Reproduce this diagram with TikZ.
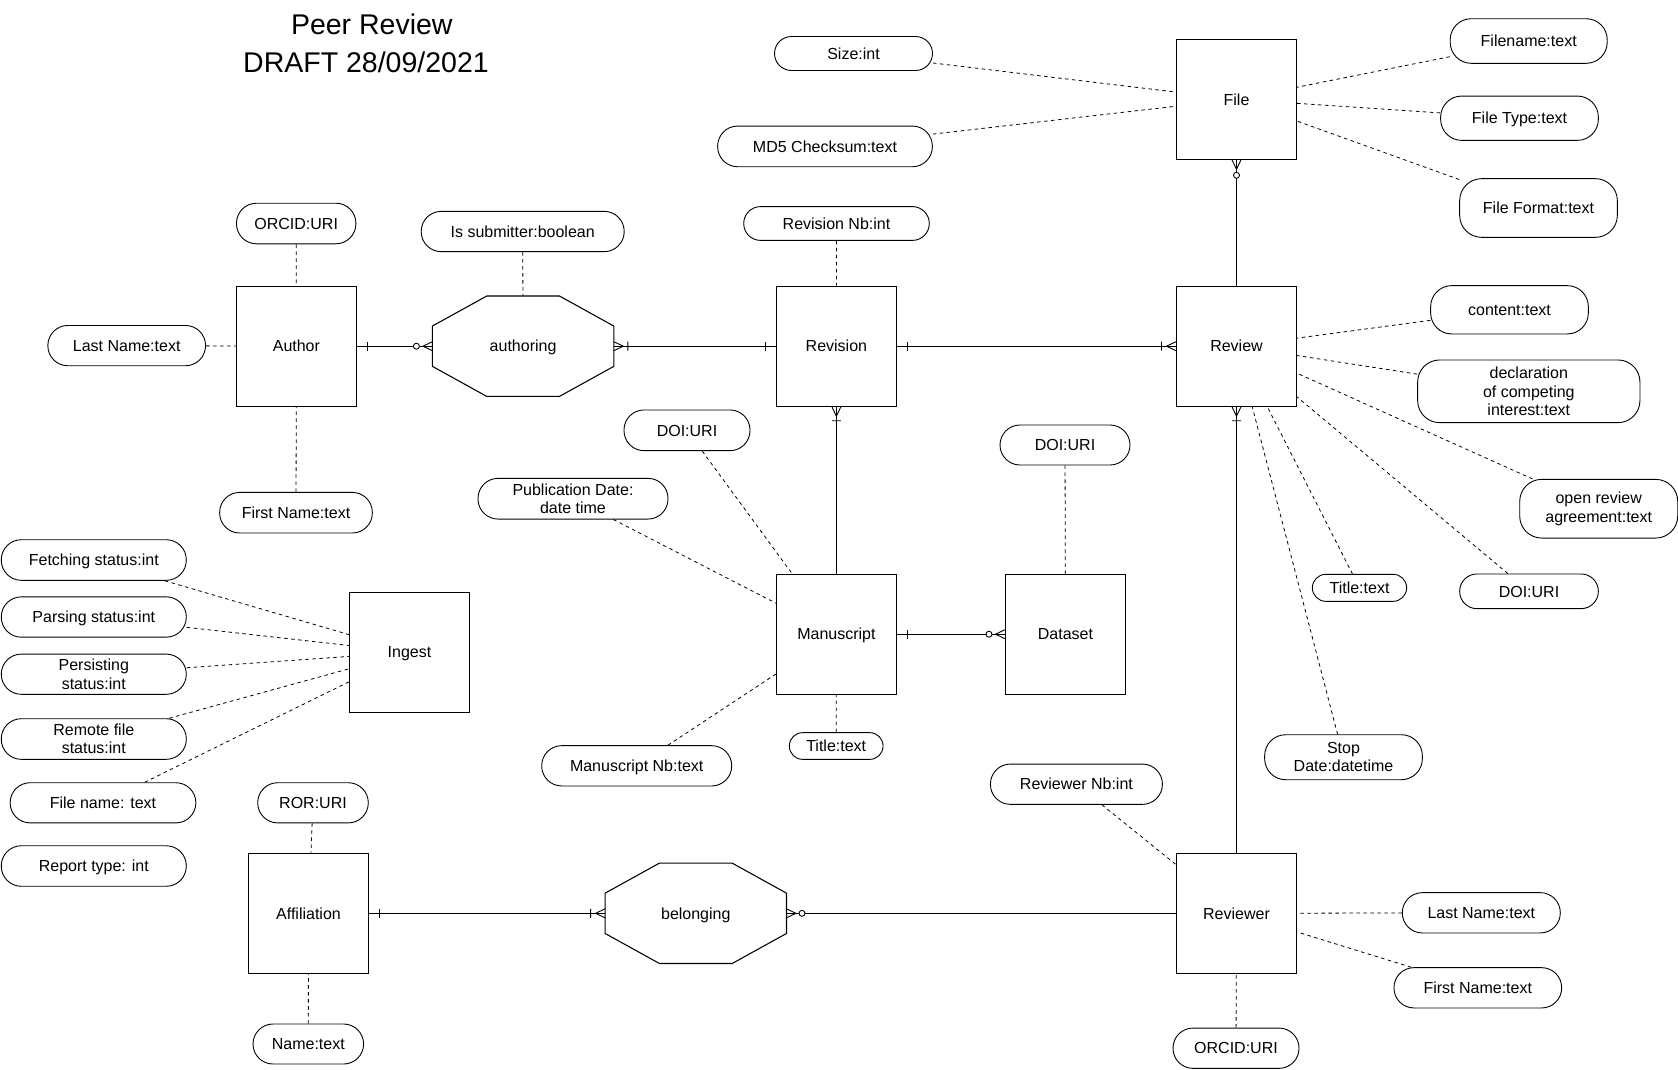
\documentclass[tikz,border=0pt]{standalone}
\usepackage{fontspec}
\setmainfont{Liberation Sans}
\usetikzlibrary{decorations.markings}
\newcommand\labfont{\fontsize{16pt}{18.5pt}\selectfont}
\newcommand\ttlfont{\fontsize{28.5pt}{34pt}\selectfont}
\newcommand\octshape[1]{\draw[entline] ([xshift=-36.35pt]#1.north) -- ([xshift=36.35pt]#1.north) -- ([yshift=20.15pt]#1.east) -- ([yshift=-20.15pt]#1.east) -- ([xshift=36.35pt]#1.south) -- ([xshift=-36.35pt]#1.south) -- ([yshift=-20.15pt]#1.west) -- ([yshift=20.15pt]#1.west) -- cycle;}
\tikzset{
  entline/.style={line width=1.07pt},
  sline/.style={text height=11.5pt, text depth=0pt},
  entity/.style={draw, entline, minimum width=120pt, minimum height=120pt, inner sep=0pt, font=\labfont, sline},
  relship/.style={minimum width=181pt, minimum height=100pt, inner sep=0pt, font=\labfont, sline},
  attr/.style n args={3}{draw, line width=0.9pt, minimum width=#1pt, minimum height=#2pt, rounded corners=#3pt, inner sep=0pt, align=center, font=\labfont},
  attrline/.style={line width=0.8pt, dash pattern=on 3.5pt off 3.5pt},
  mk/.style={line width=0.9pt, solid},
  startone/.style={postaction={decorate,decoration={markings,mark=at position 0 with {\draw[mk] (10.5pt,-4.5pt) -- (10.5pt,4.5pt);}}}},
  endone/.style={postaction={decorate,decoration={markings,mark=at position 1 with {\draw[mk] (-10pt,-4.5pt) -- (-10pt,4.5pt);}}}},
  startonemany/.style={postaction={decorate,decoration={markings,mark=at position 0 with {\draw[mk] (0pt,4.5pt) -- (9.5pt,0pt) -- (0pt,-4.5pt) (14pt,-4.5pt) -- (14pt,4.5pt);}}}},
  endonemany/.style={postaction={decorate,decoration={markings,mark=at position 1 with {\draw[mk] (0pt,4.5pt) -- (-9.5pt,0pt) -- (0pt,-4.5pt) (-14.5pt,-4.5pt) -- (-14.5pt,4.5pt);}}}},
  startzeromany/.style={postaction={decorate,decoration={markings,mark=at position 0 with {\draw[mk] (0pt,4.5pt) -- (9.5pt,0pt) -- (0pt,-4.5pt); \draw[mk,fill=white] (15.5pt,0pt) circle[radius=3pt];}}}},
  endzeromany/.style={postaction={decorate,decoration={markings,mark=at position 1 with {\draw[mk] (0pt,4.5pt) -- (-9.5pt,0pt) -- (0pt,-4.5pt); \draw[mk,fill=white] (-16pt,0pt) circle[radius=3pt];}}}}
}
\begin{document}
\begin{tikzpicture}[x=1pt, y=-1pt]
\fill[white] (0,0) rectangle (1678,1069);
\useasboundingbox (0,0) rectangle (1678,1069);

% title
\node[font=\ttlfont, anchor=base, inner sep=0pt] (t1) at (371.8,34.2) {Peer Review};
\node[font=\ttlfont, anchor=base, inner sep=0pt] (t2) at (366,72.2) {DRAFT 28/09/2021};

% entities
\node[entity] (author) at (296.4,346.2) {Author};
\node[entity] (revision) at (836.4,346.2) {Revision};
\node[entity] (review) at (1236.5,346.2) {Review};
\node[entity] (file) at (1236.5,99.3) {File};
\node[entity] (manuscript) at (836.4,634.2) {Manuscript};
\node[entity] (dataset) at (1065.5,634.2) {Dataset};
\node[entity] (ingest) at (409.5,652.2) {Ingest};
\node[entity] (affiliation) at (308.5,913.3) {Affiliation};
\node[entity] (reviewer) at (1236.5,913.3) {Reviewer};

% relationships
\node[relship] (authoring) at (523.1,346.2) {authoring};
\node[relship] (belonging) at (695.8,913.3) {belonging};
\octshape{authoring}
\octshape{belonging}

% attributes
\node[attr={119.4}{40.6}{20}, sline] (orcidA) at (296.2,223.5) {ORCID:URI};
\node[attr={157.7}{40.3}{20}, sline] (lastA) at (126.7,345.6) {Last Name:text};
\node[attr={152.7}{40.6}{20}, sline] (firstA) at (296,512.7) {First Name:text};
\node[attr={203}{40.3}{20}, sline] (submitter) at (522.7,231.5) {Is submitter:boolean};
\node[attr={185.6}{33.8}{16.9}, sline] (revnb) at (836.5,223.5) {Revision Nb:int};
\node[attr={158}{34}{17}, sline] (size) at (853.5,53.5) {Size:int};
\node[attr={214.7}{40.7}{20}, sline] (md5) at (825,146.4) {MD5 Checksum:text};
\node[attr={157}{44.6}{21}, sline] (filename) at (1528.7,41) {Filename:text};
\node[attr={157.7}{44.3}{21}, sline] (filetype) at (1519.5,118.2) {File Type:text};
\node[attr={157.7}{58.7}{22}, sline] (fileformat) at (1538.5,208) {File Format:text};
\node[attr={157.7}{48.3}{21}, sline] (content) at (1509.5,309.8) {content:text};
\node[attr={222.3}{62.7}{22}] (declaration) at (1528.8,391.3) {declaration\\of competing\\interest:text};
\node[attr={158}{58.7}{22}] (openrev) at (1598.7,508.7) {open review\\agreement:text};
\node[attr={138.7}{34.7}{17.3}, sline] (doiR) at (1529,591.3) {DOI:URI};
\node[attr={94.3}{27}{13.5}, sline] (titleR) at (1359.5,587.8) {Title:text};
\node[attr={157.7}{45}{21}] (stopdate) at (1343.5,757.2) {Stop\\Date:datetime};
\node[attr={172}{40.3}{20}, sline] (revnbint) at (1076.4,784.2) {Reviewer Nb:int};
\node[attr={158}{40.3}{20}, sline] (lastR) at (1481.3,912.8) {Last Name:text};
\node[attr={167.7}{40.3}{20}, sline] (firstR) at (1477.8,987.8) {First Name:text};
\node[attr={126}{40.3}{20}, sline] (orcidR) at (1236,1048.2) {ORCID:URI};
\node[attr={126}{40.7}{20}, sline] (doiM) at (687,430.3) {DOI:URI};
\node[attr={190}{40.7}{20}] (pubdate) at (573,498.7) {Publication Date:\\date time};
\node[attr={190}{40.3}{20}, sline] (manunb) at (636.7,765.8) {Manuscript Nb:text};
\node[attr={93.7}{26.7}{13.3}, sline] (titleM) at (836.2,746) {Title:text};
\node[attr={130}{40}{20}, sline] (doiD) at (1065,445) {DOI:URI};
\node[attr={185}{40.6}{20}, sline] (fetching) at (93.8,560) {Fetching status:int};
\node[attr={185}{40.3}{20}, sline] (parsing) at (93.8,617) {Parsing status:int};
\node[attr={185}{40.2}{20}] (persisting) at (93.8,674.2) {Persisting\\status:int};
\node[attr={185}{40.6}{20}] (remote) at (93.8,739) {Remote file\\status:int};
\node[attr={185.7}{40.2}{20}, sline] (fname) at (103,802.8) {File name: text};
\node[attr={185}{40.5}{20}, sline] (report) at (93.8,866) {Report type: int};
\node[attr={110.6}{40.2}{20}, sline] (ror) at (313,802.8) {ROR:URI};
\node[attr={110.6}{40}{20}, sline] (nameAff) at (308.3,1044) {Name:text};

% attribute links
\draw[attrline] (orcidA) -- (author);
\draw[attrline] (lastA) -- (author);
\draw[attrline] (firstA) -- (author);
\draw[attrline] (submitter) -- (authoring);
\draw[attrline] (revnb) -- (revision);
\draw[attrline] (size) -- (file);
\draw[attrline] (md5) -- (file);
\draw[attrline] (filename) -- (file);
\draw[attrline] (filetype) -- (file);
\draw[attrline] (fileformat) -- (file);
\draw[attrline] (content) -- (review);
\draw[attrline] (declaration) -- (review);
\draw[attrline] (openrev) -- (review);
\draw[attrline] (doiR) -- (review);
\draw[attrline] (titleR) -- (review);
\draw[attrline] (stopdate) -- (review);
\draw[attrline] (revnbint) -- (reviewer);
\draw[attrline] (lastR) -- (reviewer);
\draw[attrline] (firstR) -- (reviewer);
\draw[attrline] (orcidR) -- (reviewer);
\draw[attrline] (doiM) -- (manuscript);
\draw[attrline] (pubdate) -- (manuscript);
\draw[attrline] (manunb) -- (manuscript);
\draw[attrline] (titleM) -- (manuscript);
\draw[attrline] (doiD) -- (dataset);
\draw[attrline] (fetching) -- (ingest);
\draw[attrline] (parsing) -- (ingest);
\draw[attrline] (persisting) -- (ingest);
\draw[attrline] (remote) -- (ingest);
\draw[attrline] (fname) -- (ingest);
\draw[attrline] (ror) -- (affiliation);
\draw[attrline] (nameAff) -- (affiliation);

% relationships
\draw[entline, startone, endzeromany] (author) -- (authoring);
\draw[entline, startonemany, endone] (authoring) -- (revision);
\draw[entline, startone, endonemany] (revision) -- (review);
\draw[entline, startonemany] (revision) -- (manuscript);
\draw[entline, startonemany] (review) -- (reviewer);
\draw[entline, startzeromany] (file) -- (review);
\draw[entline, startone, endzeromany] (manuscript) -- (dataset);
\draw[entline, startone, endonemany] (affiliation) -- (belonging);
\draw[entline, startzeromany] (belonging) -- (reviewer);
\end{tikzpicture}
\end{document}
